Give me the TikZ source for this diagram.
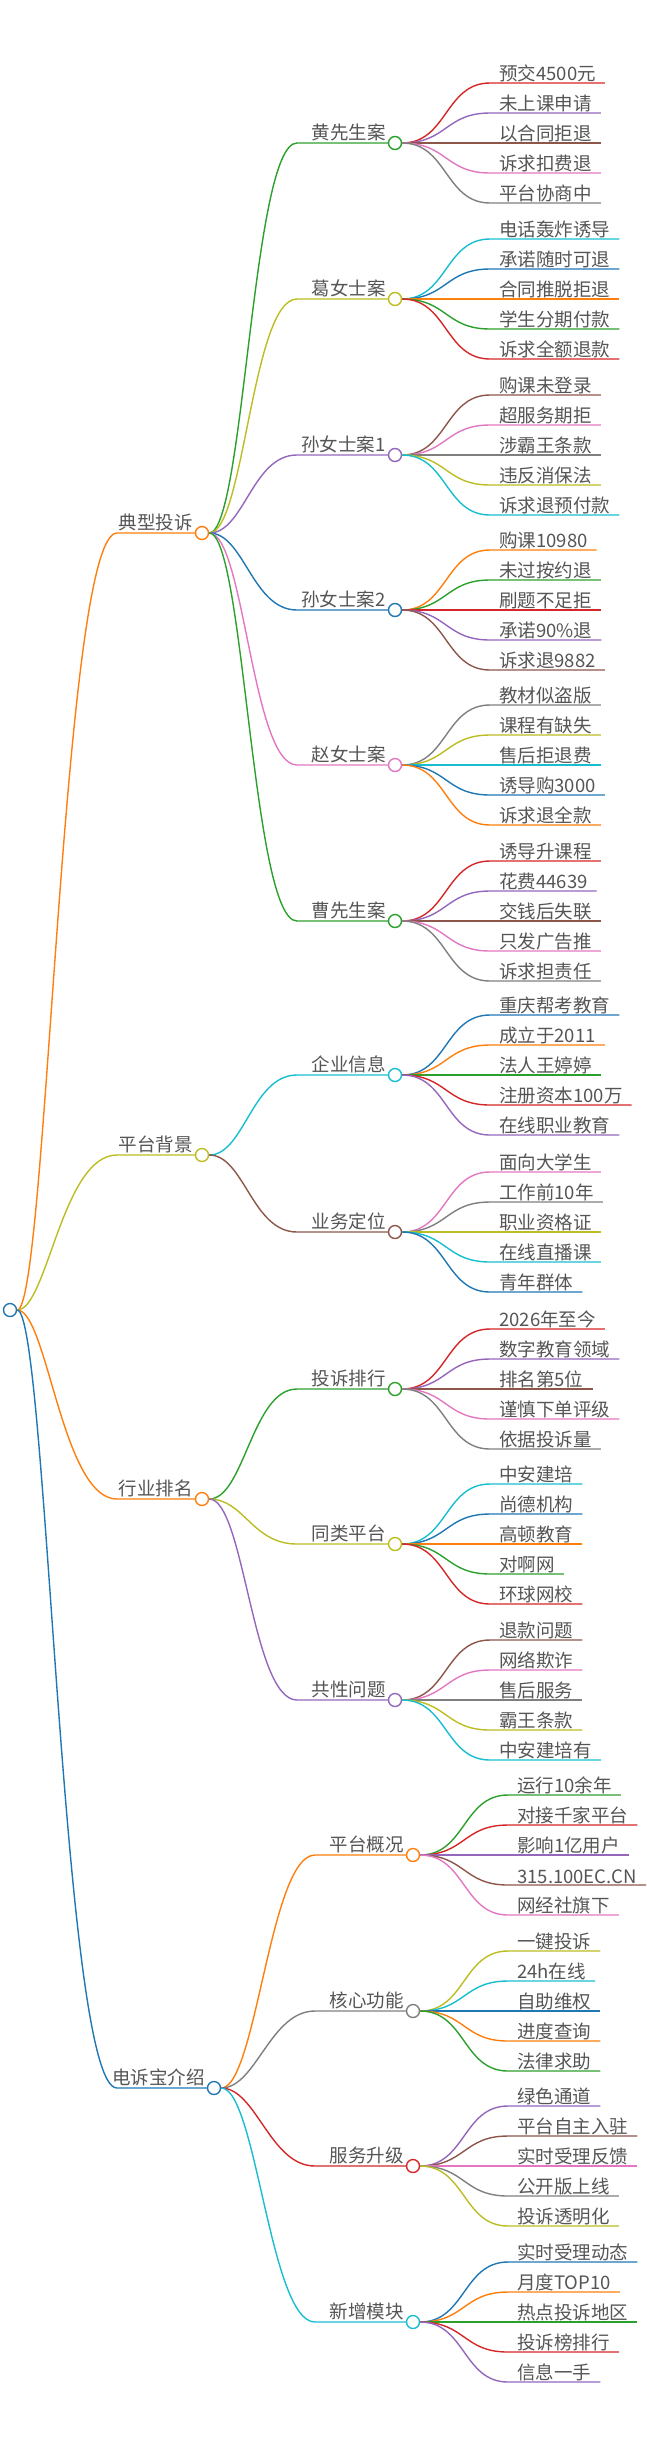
\documentclass[tikz,border=0pt]{standalone}
\usepackage{fontspec}
\setmainfont{Noto Sans CJK SC}
\definecolor{mm0}{HTML}{1F77B4}
\definecolor{mm1}{HTML}{FF7F0E}
\definecolor{mm2}{HTML}{2CA02C}
\definecolor{mm3}{HTML}{D62728}
\definecolor{mm4}{HTML}{9467BD}
\definecolor{mm5}{HTML}{8C564B}
\definecolor{mm6}{HTML}{E377C2}
\definecolor{mm7}{HTML}{7F7F7F}
\definecolor{mm8}{HTML}{BCBD22}
\definecolor{mm9}{HTML}{17BECF}
\definecolor{txt}{HTML}{555555}
\newcounter{colidx}
\newcommand{\nextcol}{\pgfmathtruncatemacro\ci{mod(\value{colidx},10)}\stepcounter{colidx}}
\begin{document}
\begin{tikzpicture}[x=1pt,y=-1pt,
    link/.style={line width=1.4pt},
    dot/.style={circle, fill=white, line width=1.4pt, minimum size=13pt, inner sep=0pt},
    lbl/.style={text=txt, font=\fontsize{18.5}{20}\selectfont, inner sep=2pt},
    leaf/.style={lbl, anchor=south west, inner xsep=9pt, inner ysep=1pt}]
    \useasboundingbox (0,0) rectangle (647,2439);

    % main topic: #1 name, #2 y, #3 text, #4 circle x
    \newcommand{\topic}[4]
    {
      \nextcol
      \node[dot, draw=mm\ci] (#1) at (#4,#2) {};
      \node[lbl, anchor=south east] (#1-t) at (#1.west) {#3};
      \draw[link, mm\ci] (root.east) .. controls +(30,0) and +(-55,0) .. (117,#2) -- (#1.west);
    }
    % sub topic: #1 parent, #2 name, #3 y, #4 text, #5 circle x, #6 line start x
    \newcommand{\subtopic}[6]
    {
      \nextcol
      \node[dot, draw=mm\ci] (#2) at (#5,#3) {};
      \node[lbl, anchor=south east] (#2-t) at (#2.west) {#4};
      \draw[link, mm\ci] (#1.east) .. controls +(35,0) and +(-45,0) .. (#6,#3) -- (#2.west);
    }
    % leaves: #1 parent, #2 x of leaf start, #3 list
    \newcommand{\leaves}[3]
    {
      \foreach \t [count=\i] in {#3}
      {
        \nextcol
        \path (#1) ++(0,{(\i-3)*30}) coordinate (#1-c\i);
        \node[leaf] (#1-l\i) at (#2,0 |- #1-c\i) {\t};
        \draw[link, mm\ci] (#1.east) .. controls +(45,0) and +(-45,0) .. (#1-l\i.south west) -- (#1-l\i.south east);
      }
    }

    \nextcol
    \node[dot, draw=mm\ci] (root) at (10,1310) {};

    % 典型投诉
    \topic{tx}{533}{典型投诉}{202}
    \subtopic{tx}{huang}{143}{黄先生案}{395}{297}
    \leaves{huang}{490}{预交4500元,未上课申请,以合同拒退,诉求扣费退,平台协商中}
    \subtopic{tx}{ge}{299}{葛女士案}{395}{297}
    \leaves{ge}{490}{电话轰炸诱导,承诺随时可退,合同推脱拒退,学生分期付款,诉求全额退款}
    \subtopic{tx}{sunA}{455}{孙女士案1}{395}{297}
    \leaves{sunA}{490}{购课未登录,超服务期拒,涉霸王条款,违反消保法,诉求退预付款}
    \subtopic{tx}{sunB}{610}{孙女士案2}{395}{297}
    \leaves{sunB}{490}{购课10980,未过按约退,刷题不足拒,承诺90\%退,诉求退9882}
    \subtopic{tx}{zhao}{765}{赵女士案}{395}{297}
    \leaves{zhao}{490}{教材似盗版,课程有缺失,售后拒退费,诱导购3000,诉求退全款}
    \subtopic{tx}{cao}{921}{曹先生案}{395}{297}
    \leaves{cao}{490}{诱导升课程,花费44639,交钱后失联,只发广告推,诉求担责任}

    % 平台背景
    \topic{bg}{1155}{平台背景}{202}
    \subtopic{bg}{qiye}{1075}{企业信息}{395}{297}
    \leaves{qiye}{490}{重庆帮考教育,成立于2011,法人王婷婷,注册资本100万,在线职业教育}
    \subtopic{bg}{yewu}{1232}{业务定位}{395}{297}
    \leaves{yewu}{490}{面向大学生,工作前10年,职业资格证,在线直播课,青年群体}

    % 行业排名
    \topic{rank}{1499}{行业排名}{202}
    \subtopic{rank}{paihang}{1389}{投诉排行}{395}{297}
    \leaves{paihang}{490}{2026年至今,数字教育领域,排名第5位,谨慎下单评级,依据投诉量}
    \subtopic{rank}{tonglei}{1544}{同类平台}{395}{297}
    \leaves{tonglei}{490}{中安建培,尚德机构,高顿教育,对啊网,环球网校}
    \subtopic{rank}{gongxing}{1700}{共性问题}{395}{297}
    \leaves{gongxing}{490}{退款问题,网络欺诈,售后服务,霸王条款,中安建培有}

    % 电诉宝介绍
    \topic{dsb}{2088}{电诉宝介绍}{214}
    \subtopic{dsb}{gaikuang}{1855}{平台概况}{413}{315}
    \leaves{gaikuang}{508}{运行10余年,对接千家平台,影响1亿用户,315.100EC.CN,网经社旗下}
    \subtopic{dsb}{gongneng}{2011}{核心功能}{413}{315}
    \leaves{gongneng}{508}{一键投诉,24h在线,自助维权,进度查询,法律求助}
    \subtopic{dsb}{shengji}{2166}{服务升级}{413}{315}
    \leaves{shengji}{508}{绿色通道,平台自主入驻,实时受理反馈,公开版上线,投诉透明化}
    \subtopic{dsb}{mokuai}{2322}{新增模块}{413}{315}
    \leaves{mokuai}{508}{实时受理动态,月度TOP10,热点投诉地区,投诉榜排行,信息一手}
\end{tikzpicture}
\end{document}
